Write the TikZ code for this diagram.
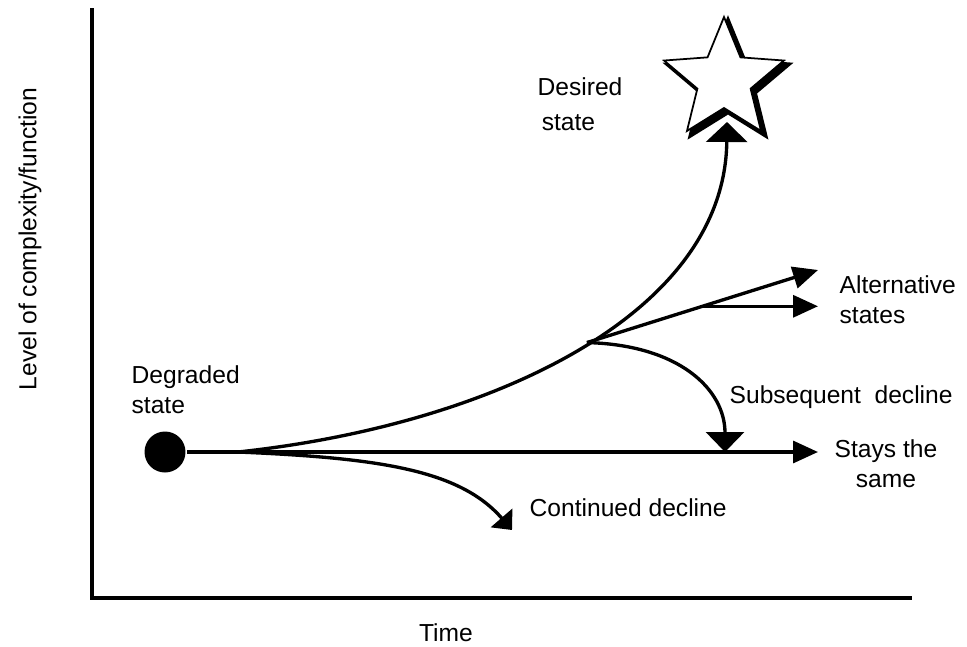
\documentclass[tikz,border=0pt]{standalone}
\usepackage{fontspec}
\setmainfont{Liberation Sans}
\usetikzlibrary{arrows.meta,shapes.geometric,calc}

\begin{document}
\begin{tikzpicture}[x=0.02cm,y=-0.02cm,->,>={Triangle[length=0.5cm,width=0.44cm]},line width=1.9pt,font=\fontsize{14}{17}\selectfont]
 \tikzstyle{txt}=[align=left,inner sep=0pt]
 \tikzstyle{bigstar}=[star,star points=5,star point ratio=2.25,minimum size=2.52cm,inner sep=0pt]
 \tikzstyle{dot}=[circle,fill,minimum size=0.82cm,inner sep=0pt]

   \useasboundingbox (0,0) rectangle (967,646);

   % axes
   \draw[-] (92,8) -- (92,598) -- (912,598);
   \node[txt,rotate=90] (level) at (30,239) {Level of complexity/function};
   \node[txt] (time) at (446,633) {Time};

   \node[dot] (deg) at (165,452) {};
   \node[bigstar,fill=black,draw,line width=2.5pt] (shadow) at (728,84) {};
   \node[bigstar,fill=white,draw,line width=1pt] (star) at (724,80) {};

   \coordinate (split) at (238,452);
   \coordinate (stay) at (818,452);
   \coordinate (altA) at (818,270);
   \coordinate (goal) at (727,122);
   \coordinate (cont) at (512,530);
   \coordinate (subs) at (725,452);

   \draw (deg) -- (stay);
   \draw[-{Triangle[length=0.4cm,width=0.82cm]}] (split) .. controls (490,425) and (725,315) .. coordinate[pos=0.52] (br) (goal);
   \draw[-{Triangle[length=0.32cm,width=0.56cm]}] (split) .. controls (380,458) and (460,470) .. (cont);
   \draw (br) -- coordinate[pos=0.5] (fork) (altA);
   \draw (fork) -- (fork -| altA);
   \draw[-{Triangle[length=0.4cm,width=0.76cm]}] (br) .. controls (680,345) and (725,390) .. (subs);

   % labels
   \node[txt,anchor=west] (degl) at (130,390) {Degraded\\state};
   \node[txt,anchor=west] (desl) at (536,104) {Desired\\[3pt]\,state};
   \node[txt,anchor=west] (altl) at (838,300) {Alternative\\states};
   \node[txt,anchor=west] (subl) at (728,397) {Subsequent \ decline};
   \node[txt,align=center,anchor=west] (stal) at (833,464) {Stays the\\same};
   \node[txt,anchor=west] (conl) at (528,508) {Continued decline};

\end{tikzpicture}
\end{document}
